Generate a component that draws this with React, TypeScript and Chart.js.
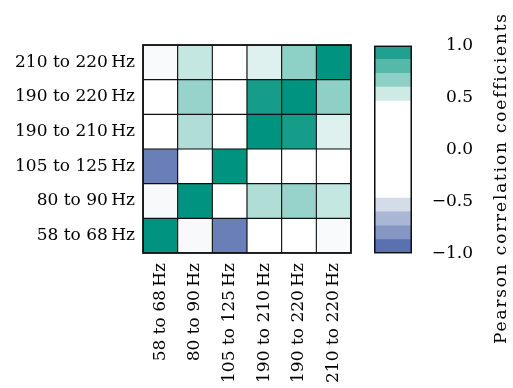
import React, { useEffect, useRef } from 'react';
import { Chart, registerables } from 'chart.js';

Chart.register(...registerables);

// ---------- data ----------
const bandLabels = [
  '58 to 68\u2009Hz',
  '80 to 90\u2009Hz',
  '105 to 125\u2009Hz',
  '190 to 210\u2009Hz',
  '190 to 220\u2009Hz',
  '210 to 220\u2009Hz',
];

// correlation rows (columns follow bandLabels order)
const corr58to68 = [1.0, -0.3, -0.94, 0.05, 0.1, -0.25];
const corr80to90 = [-0.3, 1.0, 0.1, 0.62, 0.68, 0.57];
const corr105to125 = [-0.94, 0.1, 1.0, 0.15, 0.2, 0.1];
const corr190to210 = [0.05, 0.62, 0.15, 1.0, 0.96, 0.5];
const corr190to220 = [0.1, 0.68, 0.2, 0.96, 1.0, 0.7];
const corr210to220 = [-0.25, 0.57, 0.1, 0.5, 0.7, 1.0];

const corrRows = [corr58to68, corr80to90, corr105to125, corr190to210, corr190to220, corr210to220];

const colorbarTicks = [1.0, 0.5, 0.0, -0.5, -1.0];
const colorbarLevels = 15;
const colorbarColors = [
  '#5a70b0', '#8596c3', '#a9b6d4', '#d4dbe9',
  '#ffffff', '#ffffff', '#ffffff', '#ffffff', '#ffffff', '#ffffff', '#ffffff',
  '#cdeae5', '#8fd0c6', '#55b9a9', '#22a08f',
];
const colorbarTitle = 'Pearson correlation coefficients';

// ---------- styling ----------
const FONT = 'DejaVu Serif';
const FS = 17;

const cmapStops: [number, number[]][] = [
  [-1, [88, 110, 176]],
  [-0.85, [133, 150, 195]],
  [-0.7, [169, 182, 212]],
  [-0.55, [212, 219, 233]],
  [-0.4, [246, 247, 250]],
  [0, [255, 255, 255]],
  [0.4, [255, 255, 255]],
  [0.55, [205, 234, 229]],
  [0.7, [143, 208, 198]],
  [0.85, [80, 183, 167]],
  [1, [0, 147, 127]],
];

function colorFor(v: number): string {
  for (let i = 0; i < cmapStops.length - 1; i++) {
    const [a, ca] = cmapStops[i];
    const [b, cb] = cmapStops[i + 1];
    if (v >= a && v <= b) {
      const t = (v - a) / (b - a);
      const c = ca.map((x, k) => Math.round(x + (cb[k] - x) * t));
      return `rgb(${c[0]},${c[1]},${c[2]})`;
    }
  }
  const c = v < 0 ? cmapStops[0][1] : cmapStops[cmapStops.length - 1][1];
  return `rgb(${c[0]},${c[1]},${c[2]})`;
}

const fmt = (v: number) => (v < 0 ? '\u2212' + Math.abs(v).toFixed(1) : v.toFixed(1));

const W = 513;
const H = 388;

export default function App() {
  const heatRef = useRef<HTMLCanvasElement>(null);
  const barRef = useRef<HTMLCanvasElement>(null);

  useEffect(() => {
    const frame = {
      id: 'frame',
      afterDatasetsDraw(chart: any) {
        const { ctx, chartArea } = chart;
        ctx.save();
        ctx.strokeStyle = '#111';
        ctx.lineWidth = 1.8;
        ctx.strokeRect(chartArea.left, chartArea.top, chartArea.right - chartArea.left, chartArea.bottom - chartArea.top);
        ctx.restore();
      },
    };

    const heat = new Chart(heatRef.current!, {
      type: 'bar',
      data: {
        labels: bandLabels,
        datasets: corrRows.map((row, i) => ({
          label: bandLabels[i],
          data: bandLabels.map(() => [i, i + 1]),
          backgroundColor: row.map(colorFor),
          borderColor: '#111',
          borderWidth: 0.9,
          borderSkipped: false,
          barPercentage: 1,
          categoryPercentage: 1,
          grouped: false,
        })) as any,
      },
      options: {
        animation: false,
        responsive: false,
        layout: { padding: { left: 0, top: 45, right: W - 351, bottom: 0 } },
        plugins: { legend: { display: false }, tooltip: { enabled: false } },
        scales: {
          x: {
            type: 'category',
            offset: true,
            grid: { display: false, drawTicks: false },
            border: { display: false },
            ticks: {
              autoSkip: false,
              minRotation: 90,
              maxRotation: 90,
              padding: 10,
              color: '#000',
              font: { family: FONT, size: FS },
            },
            afterFit: (s: any) => { s.height = H - 253; },
          },
          y: {
            type: 'linear',
            min: 0,
            max: 6,
            grid: { display: false, drawTicks: false },
            border: { display: false },
            afterBuildTicks: (s: any) => { s.ticks = bandLabels.map((_, i) => ({ value: i + 0.5 })); },
            ticks: {
              callback: (_v: any, i: number) => bandLabels[i],
              padding: 8,
              color: '#000',
              font: { family: FONT, size: FS },
            },
            afterFit: (s: any) => { s.width = 143; },
          },
        },
      } as any,
      plugins: [frame],
    });

    const levelEdges = Array.from({ length: colorbarLevels + 1 }, (_, i) => -1 + (2 * i) / colorbarLevels);

    const titlePlugin = {
      id: 'cbTitle',
      afterDraw(chart: any) {
        const { ctx } = chart;
        ctx.save();
        ctx.fillStyle = '#000';
        ctx.font = `${FS}px "${FONT}"`;
        (ctx as any).letterSpacing = '1.8px';
        ctx.textAlign = 'center';
        ctx.textBaseline = 'middle';
        ctx.translate(chart.width - 11, 178);
        ctx.rotate(-Math.PI / 2);
        ctx.fillText(colorbarTitle, 0, 0);
        ctx.restore();
      },
    };

    const bar = new Chart(barRef.current!, {
      type: 'bar',
      data: {
        labels: [''],
        datasets: [
          ...colorbarColors.map((c, i) => ({
            data: [[levelEdges[i], levelEdges[i + 1]]],
            backgroundColor: c,
            borderWidth: 0,
            barPercentage: 1,
            categoryPercentage: 1,
            grouped: false,
          })),
          {
            data: [[-1, 1]],
            backgroundColor: 'rgba(0,0,0,0)',
            borderColor: '#111',
            borderWidth: 1.2,
            borderSkipped: false,
            barPercentage: 1,
            categoryPercentage: 1,
            grouped: false,
            order: -1,
          },
        ] as any,
      },
      options: {
        animation: false,
        responsive: false,
        layout: { padding: { left: 374, top: 45.5, right: W - 473, bottom: H - 253.5 } },
        plugins: { legend: { display: false }, tooltip: { enabled: false } },
        scales: {
          x: { type: 'category', display: false, offset: true },
          y: {
            type: 'linear',
            position: 'right',
            min: -1,
            max: 1,
            grid: { display: false, drawTicks: false },
            border: { display: false },
            afterBuildTicks: (s: any) => { s.ticks = colorbarTicks.map((v) => ({ value: v })); },
            ticks: {
              callback: (v: any) => fmt(Number(v)),
              crossAlign: 'far',
              padding: 15,
              color: '#000',
              font: { family: FONT, size: FS },
            },
            afterFit: (s: any) => { s.width = 473 - 412; },
          },
        },
      } as any,
      plugins: [titlePlugin],
    });

    return () => {
      heat.destroy();
      bar.destroy();
    };
  }, []);

  return (
    <div style={{ position: 'fixed', left: 0, top: 0, width: W, height: H, background: '#fff' }}>
      <canvas ref={heatRef} width={W} height={H} style={{ position: 'absolute', left: 0, top: 0, width: W, height: H }} />
      <canvas ref={barRef} width={W} height={H} style={{ position: 'absolute', left: 0, top: 0, width: W, height: H }} />
    </div>
  );
}
